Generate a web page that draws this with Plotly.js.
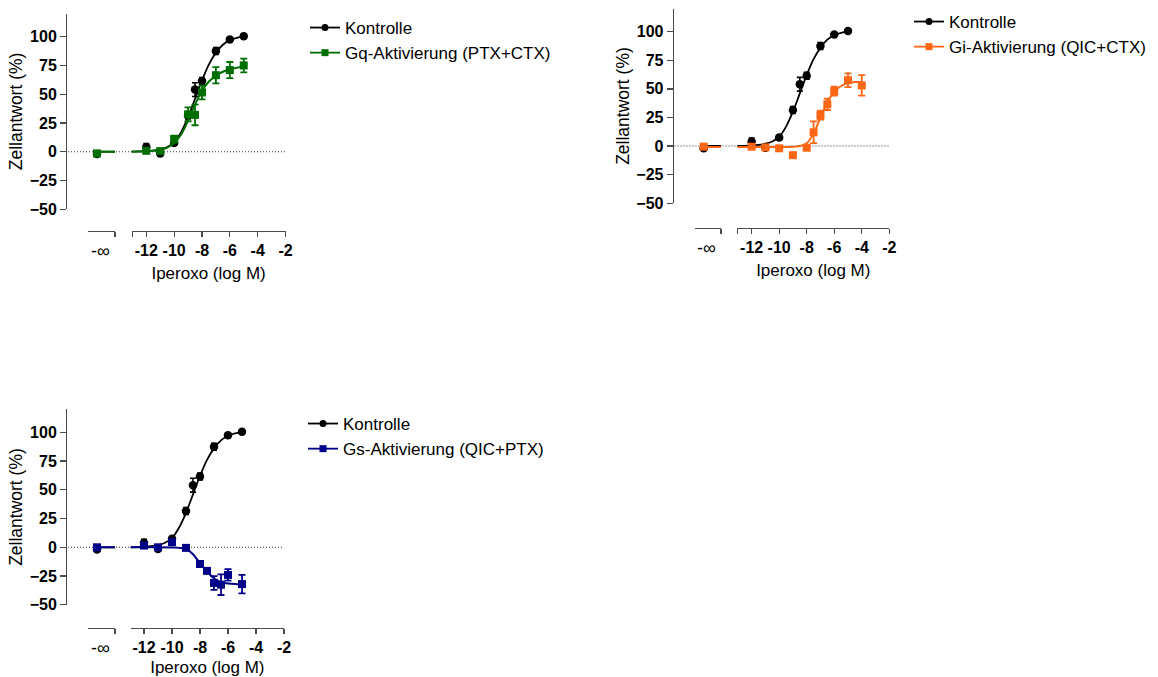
<!DOCTYPE html>
<html>
<head>
<meta charset="utf-8">
<script src="https://cdn.plot.ly/plotly-3.0.1.min.js"></script>
<style>html,body{margin:0;padding:0;background:#fff;}#chart{width:1158px;height:677px;}</style>
</head>
<body>
<div id="chart"></div>
<script>
// ---------- data ----------
// x positions are log10 [Iperoxo] (M); "NegInf" values belong to the -∞ (no agonist) point
const kontrolleX = [-12, -11, -10, -9, -8.5, -8, -7, -6, -5];
const kontrolleY = [4, -1.5, 7.5, 31.5, 54, 61.5, 87.5, 97.5, 100.5];
const kontrolleErr = [3, 2, 1.5, 3, 6, 3, 3, 1, 1];
const kontrolleNegInf = -2;
const kontrolleCurveX = [-13.2, -12.5, -12, -11.5, -11, -10.5, -10, -9.5, -9, -8.5, -8, -7.5, -7, -6.5, -6, -5.5, -5];
const kontrolleCurveY = [0, 0.2, 0.5, 1, 2, 4, 8, 17, 30, 46, 62, 76, 86, 93, 97, 99, 100];

const gqX = [-12, -11, -10, -9, -8.5, -8, -7, -6, -5];
const gqY = [0.8, 0.5, 11, 32.5, 32, 51.5, 66.5, 71, 75];
const gqErr = [2, 1, 3, 6, 9, 6, 7, 7, 6];
const gqNegInf = -1.5;
const gqCurveX = [-13.2, -12.5, -12, -11.5, -11, -10.5, -10, -9.5, -9, -8.5, -8, -7.5, -7, -6.5, -6, -5.5, -5];
const gqCurveY = [0, 0.1, 0.3, 0.8, 1.5, 3.5, 7.5, 15, 27, 41, 53, 61, 66, 69.5, 71.5, 73, 74];

const giX = [-12, -11, -10, -9, -8, -7.5, -7, -6.5, -6, -5, -4];
const giY = [-0.6, -1.2, -2, -8, -1.5, 12, 27, 36.5, 48, 57.5, 53];
const giErr = [1, 1, 1, 1, 1, 9.5, 4, 5, 4, 6, 9];
const giNegInf = -0.5;
const giCurveX = [-13.2, -12, -11, -10, -9, -8.5, -8, -7.5, -7, -6.5, -6, -5.5, -5, -4.5, -4];
const giCurveY = [-0.8, -0.8, -0.8, -0.8, -0.6, 0, 2.5, 11, 25, 38, 47.5, 52.5, 55, 56, 56];

const gsX = [-12, -11, -10, -9, -8, -7.5, -7, -6.5, -6, -5];
const gsY = [1.5, 0, 4.5, -0.5, -14.5, -20.5, -31, -32.5, -24, -32];
const gsErr = [1, 1, 1, 1, 1.5, 2, 6, 9, 5, 8];
const gsNegInf = 0;
const gsCurveX = [-13.2, -12, -11, -10, -9.5, -9, -8.5, -8, -7.5, -7, -6.5, -6, -5.5, -5];
const gsCurveY = [0, 0, 0, -0.2, -0.5, -1.5, -6, -14, -21, -27, -30.5, -31.5, -32, -32];

const yTickVals = [-50, -25, 0, 25, 50, 75, 100];
const xTickVals = [-13, -12, -10, -8, -6, -4, -2];
const xTickText = ['', '-12', '-10', '-8', '-6', '-4', '-2'];
const negInfLabel = '-∞';
const yTitle = 'Zellantwort (%)';
const xTitle = 'Iperoxo (log M)';
const kontrolleName = 'Kontrolle';

// ---------- layout helpers ----------
const W = 1158, H = 677;
const fx = px => px / W;
const fy = px => 1 - px / H;
const FONT = '"Liberation Sans", Arial, Helvetica, sans-serif';
const AXC = '#4a4a4a';
const NEG_POS = 1, NEG_LABEL_POS = 1.35, LEFT_RANGE = [0, 3];

const panels = [
  {name: 'Gq-Aktivierung (PTX+CTX)', color: '#006e00', x: gqX, y: gqY, err: gqErr, neg: gqNegInf, cx: gqCurveX, cy: gqCurveY,
   yPos: 66, yTop: 13.7, yBot: 209.2, axisY: 230.7, left: [88, 115], right: [131.7, 285.5], rightRange: [-13.05, -2], zero: [68, 285], leg: [305, 10]},
  {name: 'Gi-Aktivierung (QIC+CTX)', color: '#ff6614', x: giX, y: giY, err: giErr, neg: giNegInf, cx: giCurveX, cy: giCurveY,
   yPos: 672.7, yTop: 8.8, yBot: 203.2, axisY: 227.7, left: [695, 721], right: [737.3, 889.3], rightRange: [-13.04, -2], zero: [674.5, 889], leg: [909, 4]},
  {name: 'Gs-Aktivierung (QIC+PTX)', color: '#000088', x: gsX, y: gsY, err: gsErr, neg: gsNegInf, cx: gsCurveX, cy: gsCurveY,
   yPos: 66, yTop: 409.3, yBot: 604.8, axisY: 627.7, left: [88, 115], right: [130.7, 284], rightRange: [-12.95, -2], zero: [68, 284], leg: [303, 406]}
];

const data = [];
const layout = {
  width: W, height: H, margin: {l: 0, r: 0, t: 0, b: 0},
  paper_bgcolor: '#fff', plot_bgcolor: 'rgba(0,0,0,0)',
  font: {family: FONT, color: '#000'},
  shapes: [], annotations: []
};

panels.forEach((p, i) => {
  const yi = i + 1, xl = 2 * i + 1, xr = 2 * i + 2;
  const yName = yi === 1 ? 'y' : 'y' + yi;
  const xlName = xl === 1 ? 'x' : 'x' + xl;
  const xrName = 'x' + xr;
  const yKey = yi === 1 ? 'yaxis' : 'yaxis' + yi;
  const xlKey = xl === 1 ? 'xaxis' : 'xaxis' + xl;
  const xrKey = 'xaxis' + xr;
  const legKey = yi === 1 ? 'legend' : 'legend' + yi;

  layout[yKey] = {
    domain: [fy(p.yBot), fy(p.yTop)], range: [-50, 120], anchor: 'free', position: fx(p.yPos),
    showline: true, linecolor: AXC, linewidth: 1.3, ticks: 'outside', ticklen: 6, tickwidth: 1.3, tickcolor: AXC,
    tickvals: yTickVals, tickfont: {size: 16, family: FONT, weight: 'bold', color: '#000'},
    showgrid: false, zeroline: false, fixedrange: true,
    title: {text: yTitle, font: {size: 17.5, family: FONT, color: '#000'}, standoff: 1}
  };
  layout[xlKey] = {
    domain: [fx(p.left[0]), fx(p.left[1])], range: LEFT_RANGE, anchor: 'free', position: fy(p.axisY),
    showline: true, linecolor: AXC, linewidth: 1.3, ticks: 'outside', ticklen: 5, tickwidth: 1.3, tickcolor: AXC,
    tickvals: [LEFT_RANGE[1]], ticktext: [''], showgrid: false, zeroline: false, fixedrange: true
  };
  layout[xrKey] = {
    domain: [fx(p.right[0]), fx(p.right[1])], range: p.rightRange, anchor: 'free', position: fy(p.axisY),
    showline: true, linecolor: AXC, linewidth: 1.3, ticks: 'outside', ticklen: 5, tickwidth: 1.3, tickcolor: AXC,
    tickvals: xTickVals, ticktext: xTickText, tickfont: {size: 16, family: FONT, weight: 'bold', color: '#000'},
    showgrid: false, zeroline: false, fixedrange: true,
    title: {text: xTitle, font: {size: 17, family: FONT, color: '#000'}, standoff: 9}
  };
  layout.annotations.push({
    text: negInfLabel, xref: xlName, x: NEG_LABEL_POS, yref: 'paper', y: fy(p.axisY + 20),
    showarrow: false, xanchor: 'center', yanchor: 'middle', font: {size: 18, family: FONT, color: '#000'}
  });
  layout.shapes.push({
    type: 'line', xref: 'paper', x0: fx(p.zero[0]), x1: fx(p.zero[1]), yref: yName, y0: 0, y1: 0,
    line: {color: '#333', width: 1.1, dash: '1px,2px'}, layer: 'below'
  });
  layout[legKey] = {
    x: fx(p.leg[0]), y: fy(p.leg[1]), xanchor: 'left', yanchor: 'top',
    font: {size: 17, family: FONT, color: '#000'}, bgcolor: 'rgba(0,0,0,0)', itemwidth: 30, tracegroupgap: 0
  };

  const common = {yaxis: yName, hoverinfo: 'skip', showlegend: false, cliponaxis: false};
  // Kontrolle curve + flat part at -inf
  data.push(Object.assign({}, common, {x: kontrolleCurveX, y: kontrolleCurveY, xaxis: xrName, mode: 'lines',
    line: {color: '#000', width: 1.8, shape: 'spline', smoothing: 1}}));
  data.push(Object.assign({}, common, {x: [NEG_POS, LEFT_RANGE[1]], y: [kontrolleCurveY[0], kontrolleCurveY[0]], xaxis: xlName, mode: 'lines',
    line: {color: '#000', width: 1.8}}));
  // Kontrolle points
  data.push(Object.assign({}, common, {x: kontrolleX, y: kontrolleY, xaxis: xrName, mode: 'markers',
    marker: {symbol: 'circle', size: 8.5, color: '#000'},
    error_y: {type: 'data', array: kontrolleErr, color: '#000', thickness: 1.6, width: 3}}));
  data.push(Object.assign({}, common, {x: [NEG_POS], y: [kontrolleNegInf], xaxis: xlName, mode: 'markers',
    marker: {symbol: 'circle', size: 8.5, color: '#000'}}));
  // treated curve + flat part
  data.push(Object.assign({}, common, {x: p.cx, y: p.cy, xaxis: xrName, mode: 'lines',
    line: {color: p.color, width: 2, shape: 'spline', smoothing: 1}}));
  data.push(Object.assign({}, common, {x: [NEG_POS, LEFT_RANGE[1]], y: [p.cy[0], p.cy[0]], xaxis: xlName, mode: 'lines',
    line: {color: p.color, width: 2}}));
  // treated points
  data.push(Object.assign({}, common, {x: p.x, y: p.y, xaxis: xrName, mode: 'markers',
    marker: {symbol: 'square', size: 8, color: p.color},
    error_y: {type: 'data', array: p.err, color: p.color, thickness: 1.8, width: 3.5}}));
  data.push(Object.assign({}, common, {x: [NEG_POS], y: [p.neg], xaxis: xlName, mode: 'markers',
    marker: {symbol: 'square', size: 8, color: p.color}}));
  // legend entries
  data.push({x: [null], y: [null], xaxis: xrName, yaxis: yName, mode: 'lines+markers', name: kontrolleName,
    legend: legKey, showlegend: true, line: {color: '#000', width: 1.8}, marker: {symbol: 'circle', size: 7, color: '#000'}});
  data.push({x: [null], y: [null], xaxis: xrName, yaxis: yName, mode: 'lines+markers', name: p.name,
    legend: legKey, showlegend: true, line: {color: p.color, width: 1.8}, marker: {symbol: 'square', size: 7, color: p.color}});
});

Plotly.newPlot('chart', data, layout, {displayModeBar: false, staticPlot: true});
</script>
</body>
</html>
